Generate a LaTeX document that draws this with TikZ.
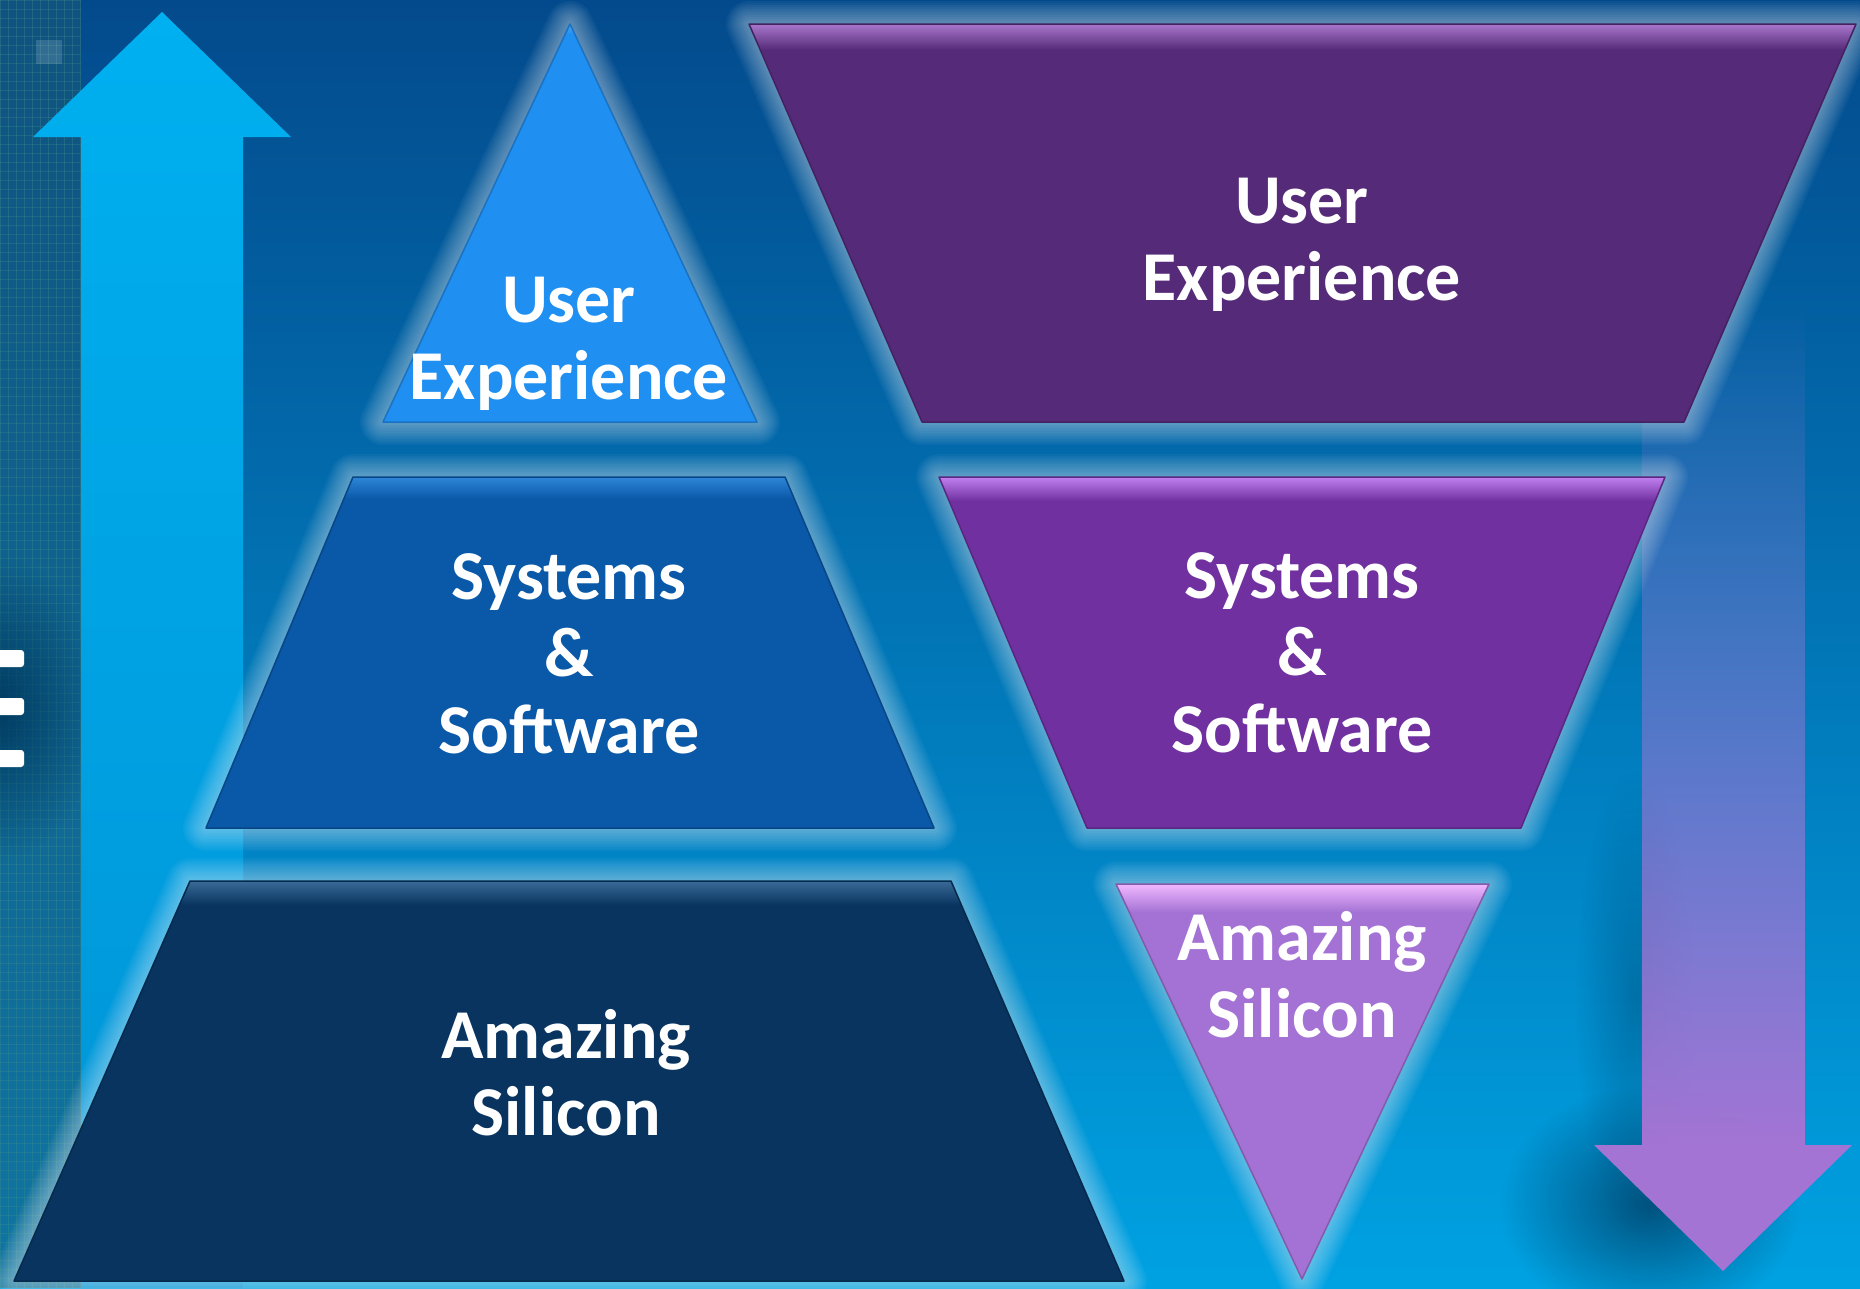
\documentclass[tikz,border=0pt]{standalone}
\usepackage{fontspec}
\setmainfont{Carlito}
\usetikzlibrary{fadings}
\tikzfading[name=softspot, inner color=transparent!0, outer color=transparent!100]
\definecolor{bgtop}{HTML}{034A8C}
\definecolor{bgmid}{HTML}{0475BD}
\definecolor{bgbot}{HTML}{00A2E2}
\definecolor{ltc}{HTML}{1F8FF2}
\definecolor{ltl}{HTML}{4AA8FA}
\definecolor{lmc}{HTML}{0A58A8}
\definecolor{lml}{HTML}{2D86D8}
\definecolor{lbc}{HTML}{08345F}
\definecolor{lbl}{HTML}{3A6A98}
\definecolor{rtc}{HTML}{552A78}
\definecolor{rtl}{HTML}{A877CC}
\definecolor{rmc}{HTML}{7030A0}
\definecolor{rml}{HTML}{C080F0}
\definecolor{rbc}{HTML}{A472D4}
\definecolor{rbl}{HTML}{F0B8FF}
\definecolor{upt}{HTML}{00B0F0}
\definecolor{upb}{HTML}{0094D6}
\definecolor{dnc}{HTML}{A474D4}
\definecolor{chip}{HTML}{1A5878}
\definecolor{chipl}{HTML}{3D8F8A}
\definecolor{shad}{HTML}{003A60}
\def\pLT{(570,24)--(757,422)--(383,422)--cycle}
\def\pLM{(353,477)--(785,477)--(934,828)--(206,828)--cycle}
\def\pLB{(190,881)--(951,881)--(1124,1281)--(14,1281)--cycle}
\def\pRT{(749,24)--(1856,24)--(1684,422)--(922,422)--cycle}
\def\pRM{(939,477)--(1665,477)--(1521,828)--(1087,828)--cycle}
\def\pRB{(1116,884)--(1489,884)--(1302,1279)--cycle}
\newcommand\glowit[1]{%
  \foreach \w in {46,42,...,6}
    \draw[white, opacity=.04, line width=\w, line join=round] #1;}
\newcommand\layer[5]{% path, base, light, top y, band height
  \fill[#2] #1;
  \begin{scope}
    \clip #1;
    \shade[top color=#3, bottom color=#2] (0,#4) rectangle (1860,#4+#5);
  \end{scope}
  \draw[#2!80!black, line width=1.5, line join=round] #1;}
\begin{document}
\begin{tikzpicture}[x=1pt,y=-1pt,
  lbl/.style={text=white, font=\fontsize{70}{77}\selectfont\bfseries, align=center, inner sep=0pt}]
\useasboundingbox (0,0) rectangle (1860,1288);
% background
\shade[top color=bgtop, middle color=bgmid, bottom color=bgbot] (0,0) rectangle (1860,1288);
% chip texture at left edge
\begin{scope}
  \clip (0,0) rectangle (81,1288);
  \fill[chip, opacity=.6] (0,0) rectangle (81,1288);
  \foreach \x in {0,8,...,80} \draw[chipl, opacity=.35, line width=.8] (\x,0) -- (\x,1288);
  \foreach \y in {0,9,...,1288} \draw[chipl, opacity=.3, line width=.8] (0,\y) -- (81,\y);
  \fill[white, opacity=.15] (36,40) rectangle (62,64);
\end{scope}
% dark shadow behind the cut-off letter
\fill[shad, opacity=.95, path fading=softspot] (0,708) ellipse (100 and 150);
% up arrow
\shade[top color=upt, bottom color=upb] (162,12) -- (291,137) -- (243,137) -- (243,1288) -- (81,1288) -- (81,137) -- (33,137) -- cycle;
% down arrow shadow
\fill[shad, opacity=.75, path fading=softspot] (1650,1205) ellipse (150 and 120);
\fill[shad, opacity=.35, path fading=softspot] (1635,1000) ellipse (60 and 230);
% down arrow
\fill[dnc] (1594,1145) -- (1852,1145) -- (1723,1271) -- cycle;
\fill[dnc, path fading=north] (1642,300) rectangle (1805,1146);
% glows
\glowit{\pLT}
\glowit{\pLM}
\glowit{\pLB}
\glowit{\pRT}
\glowit{\pRM}
\glowit{\pRB}
% layers
\layer{\pLT}{ltc}{ltl}{24}{10}
\layer{\pLM}{lmc}{lml}{477}{22}
\layer{\pLB}{lbc}{lbl}{881}{24}
\layer{\pRT}{rtc}{rtl}{24}{26}
\layer{\pRM}{rmc}{rml}{477}{24}
\layer{\pRB}{rbc}{rbl}{884}{28}
% labels
\node[lbl] (lt) at (569,344) {User\\Experience};
\node[lbl] (lm) at (569,654) {Systems\\\&\\Software};
\node[lbl] (lb) at (566,1073) {Amazing\\Silicon};
\node[lbl] (rt) at (1302,245) {User\\Experience};
\node[lbl] (rm) at (1302,653) {Systems\\\&\\Software};
\node[lbl] (rb) at (1302,975) {Amazing\\Silicon};
% cut-off letter at left edge
\foreach \y in {650,698,750}
  \fill[white, rounded corners=3] (-10,\y) rectangle (24,\y+17);
\end{tikzpicture}
\end{document}
